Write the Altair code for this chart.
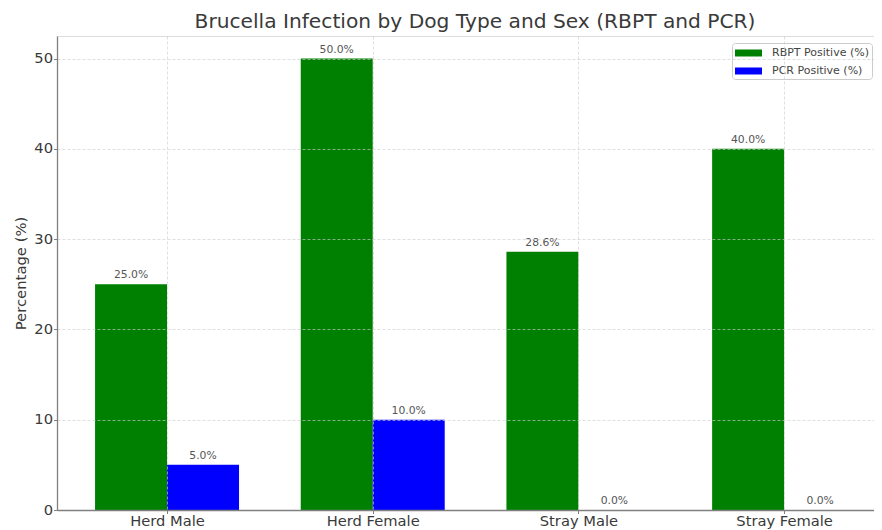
import json
import altair as alt
import pandas as pd

categories = ["Herd Male", "Herd Female", "Stray Male", "Stray Female"]
rbpt = [25.0, 50.0, 28.6, 40.0]
pcr = [5.0, 10.0, 0.0, 0.0]
series_names = ["RBPT Positive (%)", "PCR Positive (%)"]
series_colors = ["green", "blue"]

rows = []
for i, c in enumerate(categories):
    rows.append({"idx": i, "cat": c, "series": series_names[0], "value": rbpt[i], "side": -1})
    rows.append({"idx": i, "cat": c, "series": series_names[1], "value": pcr[i], "side": 0})
df = pd.DataFrame(rows)

bw = 0.35
label_expr = json.dumps(categories) + "[datum.value]"

xscale = alt.Scale(domain=[-0.535, 3.437], nice=False, zero=False)
yscale = alt.Scale(domain=[0, 52.5], nice=False)

base = alt.Chart(df).transform_calculate(
    x0=f"datum.idx + datum.side * {bw}",
    x1=f"datum.idx + (datum.side + 1) * {bw}",
    xc=f"datum.idx + (datum.side + 0.5) * {bw}",
    lab="format(datum.value, '.1f') + '%'",
)

grid_dash = [3, 2]
axis_common = dict(grid=True, gridDash=grid_dash, gridColor="#cccccc", gridOpacity=0.8,
                   gridWidth=0.8, domainColor="#808080", domainWidth=1.3,
                   tickColor="#808080", tickSize=3.5, labelFontSize=14.7,
                   labelColor="#3a3a3a", labelFont="DejaVu Sans", zindex=1)

bars = base.mark_bar(strokeWidth=0).encode(
    x=alt.X("x0:Q", scale=xscale,
            axis=alt.Axis(values=[0, 1, 2, 3], labelExpr=label_expr, title=None,
                          labelPadding=0, **axis_common)),
    x2="x1:Q",
    y=alt.Y("value:Q", scale=yscale, stack=None,
            axis=alt.Axis(values=[0, 10, 20, 30, 40, 50], title="Percentage (%)",
                          labelPadding=1,
                          titleFont="DejaVu Sans", titleFontSize=14.8, titleFontWeight="normal",
                          titleColor="#3a3a3a", titlePadding=5, **axis_common)),
    y2=alt.datum(0),
    color=alt.Color("series:N",
                    scale=alt.Scale(domain=series_names, range=series_colors),
                    legend=alt.Legend(title=None, orient="none", legendX=675, legendY=7,
                                      symbolType="M-1,-0.5 L2.86,-0.5 L2.86,0.5 L-1,0.5 Z",
                                      symbolSize=196, symbolStrokeWidth=0,
                                      labelOffset=23, labelFontSize=11,
                                      labelFont="DejaVu Sans", labelColor="#444444",
                                      rowPadding=6, padding=3, fillColor="white",
                                      strokeColor="#cccccc", cornerRadius=3)),
)

labels = base.mark_text(baseline="alphabetic", dy=-6, fontSize=10.8, font="DejaVu Sans",
                        color="#555555").encode(
    x=alt.X("xc:Q", scale=xscale),
    y=alt.Y("value:Q", scale=yscale),
    text="lab:N",
)

chart = alt.layer(bars, labels).properties(
    width=817,
    height=474,
    title=alt.TitleParams("Brucella Infection by Dog Type and Sex (RBPT and PCR)",
                          font="DejaVu Sans", fontSize=20.2, fontWeight="normal",
                          color="#3a3a3a", anchor="middle",
                          dx=9.5, offset=4),
    autosize=alt.AutoSizeParams(type="none"),
    padding={"left": 49, "top": 28, "right": 0, "bottom": 20},
).configure_view(stroke=None).configure(background="white")

chart.save("out.html", embed_options={"renderer": "svg", "actions": False})
